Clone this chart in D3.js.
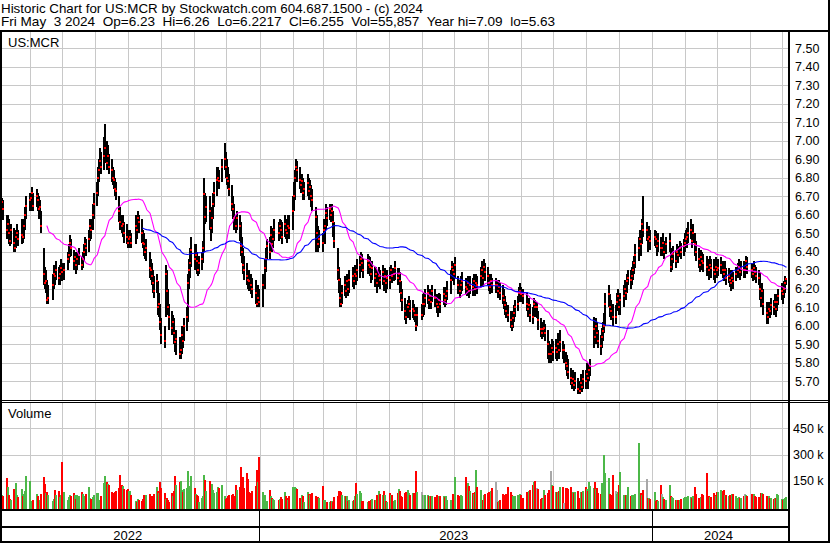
<!DOCTYPE html>
<html>
<head>
<meta charset="utf-8">
<script src="https://cdn.jsdelivr.net/npm/d3@7"></script>
<style>
  html, body { margin: 0; padding: 0; background: #fff; }
  svg { display: block; }
  text { font-family: "Liberation Sans", Arial, sans-serif; fill: #000; }
</style>
</head>
<body>
<svg id="chart" width="830" height="543"></svg>
<script>
// ---------------- DATA ----------------
const headerLine1 = "Historic Chart for US:MCR by Stockwatch.com 604.687.1500 - (c) 2024";
const headerLine2 = "Fri May  3 2024  Op=6.23  Hi=6.26  Lo=6.2217  Cl=6.255  Vol=55,857  Year hi=7.09  lo=5.63";
const symbol = "US:MCR";
const priceTicks = [5.7,5.8,5.9,6.0,6.1,6.2,6.3,6.4,6.5,6.6,6.7,6.8,6.9,7.0,7.1,7.2,7.3,7.4,7.5];
const volumeTicks = [150000, 300000, 450000];
const volumeTickLabels = ["150 k", "300 k", "450 k"];
const yearLabels = ["2022", "2023", "2024"];
const firstDay = "2022-05-04";
const lastDay = "2024-05-03";
const holidays = ["2022-05-30","2022-06-20","2022-07-04","2022-09-05","2022-11-24","2022-12-26",
  "2023-01-02","2023-01-16","2023-02-20","2023-04-07","2023-05-29","2023-06-19","2023-07-04",
  "2023-09-04","2023-11-23","2023-12-25","2024-01-01","2024-01-15","2024-02-19","2024-03-29"];
const maShortPeriod = 30;
const maLongPeriod = 90;

// closes, one line per month
const closes2022 = [
  6.64,6.67,6.63,6.52,6.55,6.50,6.46,6.52,6.45,6.42,6.48,6.50,6.47,6.49,6.48,6.54,6.60,6.65,6.68,
  6.69,6.72,6.65,6.70,6.68,6.63,6.64,6.54,6.28,6.23,6.24,6.14,6.15,6.22,6.28,6.27,6.30,6.26,6.28,6.31,6.29,
  6.30,6.36,6.38,6.45,6.42,6.35,6.37,6.33,6.36,6.38,6.33,6.36,6.40,6.44,6.42,6.47,6.54,6.52,6.60,6.66,
  6.72,6.80,6.84,6.89,6.86,6.92,6.96,6.88,6.92,6.86,6.84,6.80,6.79,6.74,6.73,6.62,6.56,6.54,6.55,6.50,6.48,6.45,6.47,
  6.48,6.45,6.54,6.52,6.58,6.56,6.50,6.45,6.44,6.40,6.42,6.31,6.30,6.27,6.23,6.19,6.24,6.10,6.12,6.02,5.95,
  5.92,6.28,6.19,6.10,6.05,5.99,6.02,5.96,5.91,5.93,5.85,5.87,5.95,5.92,6.00,6.05,6.23,6.30,6.34,6.41,6.36,
  6.38,6.35,6.30,6.34,6.36,6.42,6.71,6.59,6.64,6.62,6.53,6.58,6.66,6.72,6.79,6.80,6.78,6.86,6.90,6.86,6.80,
  6.78,6.74,6.66,6.63,6.58,6.54,6.58,6.54,6.43,6.40,6.33,6.30,6.27,6.25,6.24,6.22,6.20,6.18,6.12,6.15,6.13
];
const closes2023 = [
  6.22,6.31,6.36,6.43,6.40,6.49,6.44,6.47,6.52,6.50,6.54,6.52,6.48,6.55,6.52,6.50,6.54,6.53,6.62,6.70,
  6.80,6.86,6.84,6.79,6.76,6.78,6.72,6.74,6.77,6.73,6.75,6.70,6.68,6.59,6.50,6.44,6.47,6.45,6.52,
  6.54,6.61,6.58,6.63,6.60,6.62,6.56,6.46,6.30,6.25,6.15,6.12,6.18,6.22,6.19,6.24,6.20,6.25,6.27,6.24,6.28,6.27,6.30,
  6.33,6.36,6.34,6.30,6.35,6.33,6.32,6.28,6.31,6.26,6.28,6.23,6.27,6.25,6.29,6.24,6.27,6.23,6.26,
  6.25,6.30,6.27,6.28,6.31,6.26,6.28,6.24,6.18,6.14,6.08,6.05,6.10,6.12,6.08,6.09,6.08,6.06,6.00,6.06,6.06,6.12,
  6.12,6.15,6.18,6.14,6.16,6.13,6.19,6.15,6.12,6.10,6.14,6.12,6.17,6.14,6.16,6.19,6.25,6.32,6.30,6.28,6.33,
  6.22,6.19,6.22,6.24,6.21,6.20,6.23,6.19,6.22,6.21,6.24,6.20,6.23,6.22,6.27,6.30,6.26,6.32,6.29,6.27,
  6.23,6.21,6.24,6.22,6.22,6.22,6.19,6.21,6.18,6.16,6.14,6.11,6.08,6.06,6.03,6.00,6.04,6.07,6.10,6.12,6.18,6.19,6.17,
  6.16,6.12,6.09,6.11,6.06,6.05,6.12,6.10,6.10,6.03,5.98,5.96,5.98,5.99,5.96,5.90,5.85,5.85,5.88,5.86,
  5.88,5.86,5.90,5.87,5.91,5.87,5.87,5.80,5.78,5.75,5.72,5.69,5.71,5.68,5.70,5.66,5.65,5.69,5.67,5.71,5.70,5.74,
  5.72,5.76,5.78,5.98,5.94,6.00,5.96,5.92,5.89,5.94,5.97,6.00,6.12,6.17,6.10,6.08,6.05,6.05,6.13,6.16,6.10,
  6.14,6.16,6.20,6.18,6.24,6.26,6.25,6.27,6.30,6.34,6.38,6.42,6.47,6.44,6.55,6.52,6.52,6.47,6.48,6.46
];
const closes2024 = [
  6.48,6.47,6.43,6.46,6.42,6.42,6.45,6.40,6.44,6.46,6.32,6.36,6.39,6.35,6.40,6.38,6.42,6.40,6.43,6.45,6.47,
  6.48,6.50,6.52,6.46,6.50,6.44,6.40,6.36,6.33,6.37,6.35,6.34,6.32,6.30,6.33,6.31,6.30,6.28,6.32,6.30,
  6.31,6.33,6.30,6.28,6.30,6.26,6.27,6.25,6.23,6.26,6.24,6.28,6.30,6.32,6.29,6.31,6.30,6.30,6.35,6.32,
  6.30,6.28,6.31,6.29,6.27,6.26,6.20,6.15,6.19,6.12,6.07,6.05,6.09,6.08,6.11,6.10,6.13,6.09,6.13,6.16,6.19,6.17,
  6.20,6.23,6.255
];

const highs2022 = [
  6.68,6.69,6.68,6.60,6.60,6.58,6.54,6.55,6.53,6.50,6.52,6.55,6.52,6.58,6.52,6.58,6.64,6.70,6.72,
  6.72,6.75,6.72,6.74,6.72,6.70,6.68,6.62,6.42,6.32,6.30,6.25,6.22,6.28,6.33,6.32,6.35,6.32,6.33,6.36,6.34,
  6.34,6.40,6.44,6.49,6.47,6.41,6.40,6.38,6.40,6.42,6.38,6.40,6.44,6.48,6.47,6.52,6.58,6.58,6.66,6.72,
  6.78,6.86,6.90,6.96,6.94,7.02,7.09,7.00,6.98,6.93,6.90,6.86,6.84,6.80,6.78,6.70,6.64,6.60,6.60,6.56,6.55,6.52,6.52,
  6.52,6.50,6.60,6.58,6.62,6.60,6.58,6.52,6.50,6.47,6.47,6.40,6.36,6.34,6.30,6.27,6.28,6.24,6.18,6.12,6.04,
  6.00,6.33,6.30,6.20,6.12,6.08,6.06,6.04,5.98,5.98,5.94,5.92,6.00,6.00,6.04,6.10,6.28,6.36,6.42,6.48,6.44,
  6.44,6.40,6.38,6.38,6.40,6.46,6.80,6.72,6.70,6.70,6.62,6.64,6.72,6.78,6.86,6.86,6.84,6.90,6.99,6.94,6.90,
  6.86,6.82,6.76,6.70,6.66,6.60,6.62,6.60,6.56,6.48,6.42,6.38,6.34,6.30,6.30,6.28,6.26,6.25,6.22,6.22,6.20
];
const highs2023 = [
  6.28,6.36,6.42,6.47,6.48,6.54,6.52,6.53,6.58,6.56,6.58,6.57,6.56,6.60,6.58,6.56,6.60,6.60,6.70,6.78,
  6.84,6.90,6.89,6.86,6.82,6.82,6.80,6.78,6.82,6.80,6.79,6.76,6.74,6.64,6.60,6.54,6.52,6.50,6.58,
  6.58,6.66,6.64,6.66,6.65,6.66,6.62,6.56,6.42,6.32,6.26,6.20,6.22,6.27,6.24,6.28,6.26,6.30,6.32,6.30,6.33,6.31,6.36,
  6.38,6.40,6.39,6.36,6.39,6.38,6.37,6.35,6.35,6.32,6.32,6.30,6.32,6.30,6.33,6.30,6.31,6.28,6.30,
  6.32,6.33,6.31,6.31,6.35,6.31,6.31,6.29,6.24,6.20,6.15,6.12,6.14,6.16,6.14,6.14,6.12,6.10,6.07,6.10,6.12,6.17,
  6.18,6.20,6.22,6.20,6.20,6.18,6.22,6.20,6.17,6.15,6.18,6.17,6.21,6.19,6.21,6.24,6.30,6.35,6.34,6.33,6.37,
  6.27,6.25,6.27,6.29,6.26,6.25,6.27,6.25,6.27,6.26,6.28,6.26,6.28,6.27,6.32,6.35,6.32,6.36,6.34,6.32,
  6.28,6.26,6.28,6.26,6.26,6.25,6.24,6.25,6.23,6.22,6.20,6.16,6.13,6.11,6.08,6.05,6.08,6.11,6.14,6.16,6.21,6.23,6.21,
  6.20,6.18,6.14,6.15,6.12,6.10,6.15,6.14,6.13,6.08,6.04,6.00,6.02,6.03,6.01,5.98,5.92,5.90,5.93,5.92,
  5.93,5.92,5.96,5.94,5.98,5.92,5.90,5.86,5.84,5.82,5.77,5.75,5.76,5.74,5.75,5.72,5.70,5.74,5.73,5.76,5.76,5.80,
  5.78,5.80,5.82,6.05,6.02,6.04,6.02,5.98,5.95,5.99,6.02,6.07,6.18,6.22,6.17,6.14,6.12,6.11,6.18,6.20,6.17,
  6.18,6.22,6.25,6.24,6.28,6.30,6.30,6.32,6.35,6.38,6.44,6.48,6.52,6.52,6.58,6.70,6.56,6.52,6.54,6.52
];
const highs2024 = [
  6.52,6.51,6.49,6.50,6.48,6.47,6.50,6.46,6.48,6.50,6.42,6.41,6.43,6.41,6.44,6.43,6.46,6.45,6.47,6.50,6.52,
  6.53,6.56,6.58,6.54,6.55,6.50,6.46,6.42,6.40,6.41,6.40,6.39,6.38,6.36,6.38,6.36,6.36,6.34,6.37,6.35,
  6.36,6.37,6.35,6.33,6.35,6.31,6.31,6.30,6.28,6.30,6.29,6.32,6.34,6.36,6.34,6.35,6.35,6.35,6.38,6.37,
  6.34,6.33,6.35,6.33,6.32,6.30,6.29,6.22,6.23,6.20,6.13,6.10,6.13,6.12,6.15,6.14,6.17,6.15,6.17,6.20,6.23,6.22,
  6.24,6.27,6.26
];

const lows2022 = [
  6.56,6.58,6.57,6.47,6.47,6.44,6.43,6.44,6.40,6.40,6.42,6.45,6.43,6.44,6.45,6.47,6.52,6.58,6.62,
  6.62,6.66,6.62,6.64,6.62,6.58,6.58,6.50,6.22,6.20,6.18,6.12,6.12,6.14,6.20,6.22,6.25,6.22,6.22,6.26,6.24,
  6.25,6.30,6.34,6.37,6.38,6.30,6.32,6.28,6.30,6.33,6.30,6.31,6.35,6.38,6.38,6.40,6.46,6.47,6.52,6.58,
  6.65,6.70,6.78,6.82,6.82,6.84,6.88,6.84,6.84,6.82,6.78,6.76,6.74,6.70,6.68,6.56,6.52,6.50,6.48,6.45,6.44,6.42,6.42,
  6.44,6.42,6.44,6.47,6.50,6.50,6.45,6.42,6.38,6.36,6.35,6.26,6.25,6.22,6.18,6.15,6.18,6.06,6.05,5.98,5.90,
  5.88,6.05,6.15,6.06,5.98,5.95,5.95,5.90,5.86,5.84,5.82,5.82,5.85,5.88,5.92,5.97,6.02,6.20,6.26,6.32,6.30,
  6.30,6.28,6.27,6.28,6.30,6.34,6.40,6.55,6.56,6.52,6.46,6.50,6.58,6.64,6.70,6.74,6.74,6.78,6.84,6.80,6.76,
  6.74,6.70,6.62,6.58,6.52,6.50,6.52,6.46,6.38,6.34,6.28,6.25,6.22,6.20,6.19,6.17,6.15,6.12,6.10,6.10,6.10
];
const lows2023 = [
  6.10,6.20,6.29,6.36,6.36,6.40,6.40,6.42,6.46,6.46,6.48,6.47,6.44,6.48,6.47,6.45,6.48,6.47,6.52,6.62,
  6.68,6.78,6.78,6.74,6.72,6.72,6.68,6.68,6.70,6.68,6.69,6.64,6.62,6.40,6.42,6.40,6.42,6.40,6.44,
  6.44,6.52,6.54,6.57,6.56,6.56,6.48,6.42,6.25,6.18,6.10,6.10,6.12,6.16,6.15,6.18,6.16,6.18,6.21,6.20,6.22,6.22,6.24,
  6.26,6.30,6.29,6.26,6.28,6.28,6.27,6.23,6.25,6.21,6.22,6.18,6.21,6.20,6.22,6.19,6.21,6.18,6.20,
  6.20,6.24,6.23,6.24,6.25,6.22,6.23,6.18,6.13,6.08,6.03,6.01,6.04,6.06,6.03,6.04,6.03,6.02,5.97,6.00,6.03,6.05,
  6.06,6.10,6.12,6.09,6.11,6.09,6.13,6.10,6.07,6.05,6.08,6.07,6.11,6.10,6.11,6.14,6.17,6.25,6.24,6.22,6.26,
  6.17,6.15,6.17,6.19,6.17,6.16,6.18,6.15,6.17,6.16,6.19,6.16,6.18,6.17,6.21,6.24,6.21,6.26,6.24,6.22,
  6.19,6.17,6.19,6.18,6.18,6.18,6.15,6.17,6.14,6.12,6.09,6.06,6.04,6.02,5.99,5.97,5.99,6.02,6.05,6.08,6.13,6.15,6.13,
  6.12,6.08,6.05,6.06,6.02,6.01,6.05,6.05,6.04,5.98,5.94,5.93,5.94,5.95,5.92,5.82,5.80,5.80,5.82,5.81,
  5.82,5.81,5.84,5.82,5.86,5.82,5.80,5.76,5.73,5.71,5.68,5.66,5.66,5.65,5.66,5.63,5.63,5.65,5.64,5.66,5.66,5.69,
  5.66,5.70,5.73,5.88,5.90,5.93,5.90,5.88,5.84,5.88,5.92,5.96,6.00,6.10,6.05,6.03,6.00,6.01,6.08,6.10,6.06,
  6.06,6.10,6.14,6.14,6.18,6.22,6.20,6.22,6.25,6.28,6.31,6.35,6.40,6.38,6.44,6.48,6.46,6.40,6.42,6.41
];
const lows2024 = [
  6.43,6.42,6.38,6.40,6.38,6.38,6.40,6.36,6.39,6.40,6.29,6.30,6.34,6.31,6.35,6.34,6.37,6.36,6.38,6.40,6.42,
  6.42,6.45,6.47,6.42,6.45,6.38,6.35,6.31,6.29,6.32,6.30,6.29,6.27,6.25,6.28,6.26,6.25,6.23,6.27,6.26,
  6.27,6.28,6.26,6.24,6.26,6.22,6.23,6.21,6.19,6.22,6.20,6.24,6.26,6.27,6.25,6.27,6.26,6.26,6.30,6.28,
  6.26,6.24,6.27,6.25,6.23,6.22,6.14,6.10,6.14,6.06,6.01,6.01,6.04,6.04,6.06,6.06,6.08,6.05,6.08,6.11,6.14,6.12,
  6.15,6.18,6.2217
];

// volumes in thousands of shares
const volumes2022 = [
  70,68,60,167,116,70,45,40,102,80,135,68,55,102,60,75,90,179,148,
  35,30,42,75,60,40,38,75,173,131,80,85,68,34,45,97,68,93,55,70,259,
  88,40,55,68,60,78,70,45,68,62,88,75,60,50,72,116,50,45,58,70,
  82,78,42,40,60,135,179,140,130,125,88,82,80,86,90,110,183,125,120,105,95,100,93,
  90,68,32,30,45,40,35,48,68,70,66,72,60,58,62,75,116,90,80,140,110,
  80,45,52,40,30,78,65,90,179,127,140,148,97,85,100,110,205,110,120,179,106,
  75,68,60,30,50,60,183,153,90,150,125,130,95,80,87,115,110,128,60,45,50,
  60,68,70,75,65,128,95,115,230,85,173,110,192,160,87,80,90,120,211,140,286
];
const volumes2023 = [
  87,70,30,35,97,60,50,45,40,42,48,55,45,88,65,50,40,60,116,115,
  116,110,105,50,45,68,60,30,87,72,70,75,82,60,58,55,52,121,40,
  40,30,28,30,32,35,30,58,60,90,92,85,70,62,60,63,34,40,35,38,60,136,75,
  93,80,35,32,30,35,28,40,45,38,42,68,90,75,68,90,70,34,30,
  80,68,70,34,40,80,100,90,60,55,77,85,96,80,70,77,80,75,205,85,88,68,
  68,70,68,62,65,60,64,58,66,62,64,60,64,58,60,38,40,36,72,65,171,
  68,65,70,60,171,135,136,120,90,80,75,85,211,116,95,34,40,70,76,82,
  85,80,90,108,140,97,30,35,40,72,70,68,75,114,85,68,60,58,62,70,65,72,70,
  50,87,80,90,97,125,140,148,106,100,48,52,45,97,70,82,97,205,125,118,
  87,83,83,90,116,116,20,110,110,102,116,87,87,80,85,93,50,87,87,90,116,100,
  90,140,121,110,140,100,106,80,72,135,120,297,196,163,72,70,182,93,72,85,125,
  198,68,65,70,68,116,60,68,70,65,72,364,76,80,70,97,160,49,50,48
];
const volumes2024 = [
  85,34,38,35,125,72,58,45,40,127,62,58,50,40,38,42,40,45,50,57,55,
  57,60,55,50,60,113,76,49,50,55,72,70,196,60,58,58,77,70,65,83,
  83,97,90,95,70,68,65,68,70,74,72,60,53,55,53,50,60,76,70,65,
  76,70,74,60,58,58,55,78,80,75,63,65,60,49,50,48,52,50,72,70,45,42,
  45,50,55.857
];

// ---------------- BUILD ----------------
const closes = closes2022.concat(closes2023, closes2024);
const highs = highs2022.concat(highs2023, highs2024);
const lows = lows2022.concat(lows2023, lows2024);
const volumes = volumes2022.concat(volumes2023, volumes2024);

const parse = d3.timeParse("%Y-%m-%d");
const fmt = d3.timeFormat("%Y-%m-%d");
const holidaySet = new Set(holidays);
const allDays = d3.timeDay.range(parse(firstDay), d3.timeDay.offset(parse(lastDay), 1));
const dates = allDays.filter(d => d.getDay() !== 0 && d.getDay() !== 6 && !holidaySet.has(fmt(d)));

const n = Math.min(dates.length, closes.length, highs.length, lows.length, volumes.length);
const bars = d3.range(n).map(i => ({
  date: dates[i], c: closes[i], h: highs[i], l: lows[i], v: volumes[i] * 1000,
  dir: i === 0 ? 0 : Math.sign(closes[i] - closes[i - 1])
}));

function sma(period) {
  const out = [];
  for (let i = period - 1; i < n; i++) {
    out.push({ date: dates[i], v: d3.mean(closes.slice(i - period + 1, i + 1)) });
  }
  return out;
}
const maShort = sma(maShortPeriod);
const maLong = sma(maLongPeriod);

// ---------------- LAYOUT ----------------
const W = 830, H = 543;
const plotR = 789;
const priceTop = 31, priceBot = 400;
const volTop = 402, volBot = 509;
const barOffset = 1.2;

const svg = d3.select("#chart");
const x = d3.scaleTime()
  .domain([new Date(2022, 4, 4, 12), new Date(2024, 4, 7, 10)])
  .range([0, 789]);
const y = d3.scaleLinear().domain([5.6, 7.6]).range([399.8, 29.8]);
const yv = d3.scaleLinear().domain([0, 150000]).range([506.9, 480.7]);
const bx = d => x(d) + barOffset;

svg.append("rect").attr("width", W).attr("height", H).attr("fill", "#fff");

// clip paths
const defs = svg.append("defs");
defs.append("clipPath").attr("id", "clipPrice").append("rect")
  .attr("x", 2).attr("y", priceTop + 1).attr("width", plotR - 2).attr("height", priceBot - priceTop - 1);
defs.append("clipPath").attr("id", "clipVol").append("rect")
  .attr("x", 2).attr("y", volTop + 1).attr("width", plotR - 2).attr("height", volBot - volTop - 1);

// grid
const grid = svg.append("g").attr("stroke", "#c8c8c8").attr("stroke-width", 1)
  .attr("shape-rendering", "crispEdges");
const months = d3.timeMonth.range(new Date(2022, 5, 1), new Date(2024, 4, 2));
months.forEach(m => {
  const gx = Math.round(x(m)) + 0.5;
  grid.append("line").attr("x1", gx).attr("x2", gx).attr("y1", priceTop).attr("y2", priceBot);
  grid.append("line").attr("x1", gx).attr("x2", gx).attr("y1", volTop).attr("y2", volBot);
});
priceTicks.forEach(p => {
  const gy = Math.round(y(p)) + 0.5;
  grid.append("line").attr("x1", 2).attr("x2", plotR).attr("y1", gy).attr("y2", gy);
});
volumeTicks.forEach(v => {
  const gy = Math.round(yv(v)) + 0.5;
  grid.append("line").attr("x1", 2).attr("x2", plotR).attr("y1", gy).attr("y2", gy);
});

// volume bars
const volColor = d => d.dir > 0 ? "#4cb848" : (d.dir < 0 ? "#ff0000" : "#a8a8a8");
svg.append("g").attr("clip-path", "url(#clipVol)").attr("shape-rendering", "crispEdges")
  .selectAll("rect").data(bars).join("rect")
  .attr("x", d => Math.floor(bx(d.date)))
  .attr("width", 2)
  .attr("y", d => yv(d.v))
  .attr("height", d => Math.max(0, volBot - yv(d.v)))
  .attr("fill", volColor);

// price bars
const pg = svg.append("g").attr("clip-path", "url(#clipPrice)");
pg.append("g").attr("shape-rendering", "crispEdges")
  .selectAll("rect").data(bars).join("rect")
  .attr("x", d => Math.floor(bx(d.date)))
  .attr("width", 2)
  .attr("y", d => y(d.h))
  .attr("height", d => Math.max(1, y(d.l) - y(d.h)))
  .attr("fill", "#000");
pg.append("g").attr("shape-rendering", "crispEdges")
  .selectAll("rect").data(bars).join("rect")
  .attr("x", d => Math.floor(bx(d.date)))
  .attr("width", 2)
  .attr("y", d => Math.round(y(d.c)) - 1)
  .attr("height", 2)
  .attr("fill", "#ff0000");

// moving averages
const line = d3.line().x(d => bx(d.date) + 1).y(d => y(d.v));
pg.append("path").datum(maShort).attr("d", line)
  .attr("fill", "none").attr("stroke", "#ff00ff").attr("stroke-width", 1.1);
pg.append("path").datum(maLong).attr("d", line)
  .attr("fill", "none").attr("stroke", "#0000ff").attr("stroke-width", 1.1);

// frame lines
const frame = svg.append("g").attr("stroke", "#000").attr("shape-rendering", "crispEdges");
function hline(x1, x2, yy, w) { frame.append("line").attr("x1", x1).attr("x2", x2).attr("y1", yy).attr("y2", yy).attr("stroke-width", w); }
function vline(xx, y1, y2, w) { frame.append("line").attr("x1", xx).attr("x2", xx).attr("y1", y1).attr("y2", y2).attr("stroke-width", w); }
hline(0, W, 31, 2);          // under header
hline(0, W, 400.5, 1);        // price bottom (double)
hline(0, W, 402.5, 1);
hline(0, plotR, 509.5, 2);    // volume bottom
hline(0, plotR, 527, 2);      // axis mid line
hline(0, W, 542, 2);          // bottom
vline(1, 30, H, 2);           // left
vline(789, 30, H, 2);         // plot right
vline(829, 0, H, 2);          // outer right
// year separators in axis band
[new Date(2023, 0, 1), new Date(2024, 0, 1)].forEach(d => {
  const sx = Math.floor(x(d)) + 0.5;
  vline(sx, 509, 542, 1.5);
});

// texts
svg.append("text").attr("x", 1).attr("y", 12.5).attr("font-size", 13.6)
  .attr("textLength", 422).attr("lengthAdjust", "spacingAndGlyphs").text(headerLine1);
svg.append("text").attr("x", 1).attr("y", 26).attr("font-size", 13.6)
  .attr("textLength", 554).attr("lengthAdjust", "spacingAndGlyphs")
  .attr("xml:space", "preserve").style("white-space", "pre").text(headerLine2);
svg.append("text").attr("x", 8).attr("y", 47).attr("font-size", 13).text(symbol);
svg.append("text").attr("x", 8).attr("y", 418).attr("font-size", 13).text("Volume");

priceTicks.forEach(p => {
  svg.append("text").attr("x", 795).attr("y", y(p) + 4.5).attr("font-size", 12.5).text(p.toFixed(2));
});
volumeTicks.forEach((v, i) => {
  svg.append("text").attr("x", 793).attr("y", yv(v) + 4.5).attr("font-size", 12.5).text(volumeTickLabels[i]);
});

// year labels centered within their segments
const yearBounds = [x.range()[0], x(new Date(2023, 0, 1)), x(new Date(2024, 0, 1)), plotR];
yearLabels.forEach((t, i) => {
  svg.append("text").attr("x", (yearBounds[i] + yearBounds[i + 1]) / 2 - 2).attr("y", 539.5)
    .attr("font-size", 13).attr("text-anchor", "middle").text(t);
});
</script>
</body>
</html>
